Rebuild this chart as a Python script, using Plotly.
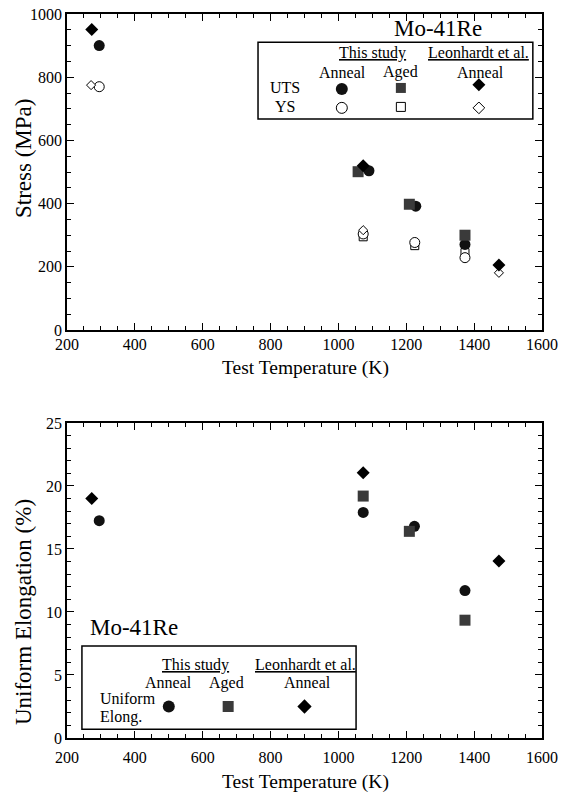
import plotly.graph_objects as go
from plotly.subplots import make_subplots

# ---- data ----
uts_anneal_T = [295, 1090, 1228, 1373]
uts_anneal_S = [900, 504, 392, 271]
uts_aged_T = [1058, 1209, 1373]
uts_aged_S = [501, 398, 300]
uts_leon_T = [273, 1073, 1473]
uts_leon_S = [951, 520, 206]

ys_anneal_T = [295, 1073, 1225, 1373]
ys_anneal_S = [770, 304, 277, 229]
ys_aged_T = [1073, 1225, 1373]
ys_aged_S = [295, 267, 245]
ys_leon_T = [271, 1073, 1473]
ys_leon_S = [775, 316, 181]

el_anneal_T = [295, 1073, 1224, 1373]
el_anneal_E = [17.25, 17.9, 16.8, 11.7]
el_aged_T = [1073, 1209, 1373]
el_aged_E = [19.2, 16.4, 9.35]
el_leon_T = [273, 1073, 1473]
el_leon_E = [19.0, 21.05, 14.05]

x_ticks = [200, 400, 600, 800, 1000, 1200, 1400, 1600]
stress_ticks = [0, 200, 400, 600, 800, 1000]
elong_ticks = [0, 5, 10, 15, 20, 25]

FONT = "Liberation Serif, Times New Roman, serif"
C_CIRC = "#111111"
C_SQ = "#3a3a3a"
C_DIA = "#000000"

fig = make_subplots(rows=2, cols=1)

def filled(x, y, sym, col, size, row):
    fig.add_trace(go.Scatter(x=x, y=y, mode="markers", showlegend=False,
                             marker=dict(symbol=sym, color=col, size=size,
                                         line=dict(width=0))), row=row, col=1)

def opened(x, y, sym, size, row):
    fig.add_trace(go.Scatter(x=x, y=y, mode="markers", showlegend=False,
                             marker=dict(symbol=sym, color="white", size=size,
                                         line=dict(width=1, color="black"))), row=row, col=1)

# top: YS (open) first, then UTS
opened(ys_aged_T, ys_aged_S, "square", 8, 1)
opened(ys_anneal_T, ys_anneal_S, "circle", 10, 1)
opened(ys_leon_T, ys_leon_S, "diamond", 7, 1)
filled(uts_anneal_T, uts_anneal_S, "circle", C_CIRC, 11, 1)
filled(uts_aged_T, uts_aged_S, "square", C_SQ, 11, 1)
filled(uts_leon_T, uts_leon_S, "diamond", C_DIA, 10, 1)

# bottom
filled(el_anneal_T, el_anneal_E, "circle", C_CIRC, 11, 2)
filled(el_aged_T, el_aged_E, "square", C_SQ, 11, 2)
filled(el_leon_T, el_leon_E, "diamond", C_DIA, 10, 2)

# legend key markers (layout positions in data units)
filled([1010], [763], "circle", C_CIRC, 12, 1)
filled([1184], [766], "square", C_SQ, 10, 1)
filled([1414], [776], "diamond", C_DIA, 10, 1)
opened([1010], [703], "circle", 11, 1)
opened([1184], [706], "square", 9, 1)
opened([1414], [703], "diamond", 9, 1)
filled([500], [2.5], "circle", C_CIRC, 12, 2)
filled([675], [2.5], "square", C_SQ, 11, 2)
filled([900], [2.5], "diamond", C_DIA, 11, 2)

axis_common = dict(showline=True, linecolor="black", linewidth=1.5, mirror="ticks",
                   ticks="inside", ticklen=7, tickwidth=1, tickcolor="black",
                   showgrid=False, zeroline=False, automargin=False,
                   tickfont=dict(family=FONT, size=16, color="black"))

fig.update_xaxes(range=[200, 1600], tickvals=x_ticks,
                 minor=dict(dtick=50, ticks="inside", ticklen=4, tickcolor="black", tickwidth=1),
                 **axis_common)
fig.update_xaxes(ticklabelstandoff=-1, row=1, col=1)
fig.update_xaxes(ticklabelstandoff=4, row=2, col=1)

fig.update_yaxes(range=[0, 1000], tickvals=stress_ticks,
                 minor=dict(dtick=50, ticks="inside", ticklen=4, tickcolor="black", tickwidth=1),
                 row=1, col=1, **axis_common)
fig.update_yaxes(range=[0, 25], tickvals=elong_ticks,
                 minor=dict(dtick=1, ticks="inside", ticklen=4, tickcolor="black", tickwidth=1),
                 row=2, col=1, **axis_common)

fig.update_layout(
    width=572, height=794,
    margin=dict(l=67, r=30, t=14, b=56, autoexpand=False),
    paper_bgcolor="white", plot_bgcolor="white",
    xaxis=dict(domain=[0, 1]), xaxis2=dict(domain=[0, 1]),
    yaxis=dict(domain=[0.5635, 1.0]), yaxis2=dict(domain=[0.0, 0.4351]),
)

# axis titles (as paper annotations)
def ptitle(x, y, s, size, angle=0):
    fig.add_annotation(x=x, y=y, xref="paper", yref="paper", text=s, showarrow=False,
                       xanchor="center", yanchor="middle", textangle=angle,
                       font=dict(family=FONT, size=size, color="black"))

ptitle(0.502, 0.511, "Test Temperature (K)", 19.5)
ptitle(0.502, -0.0608, "Test Temperature (K)", 19.5)
ptitle(-0.0926, 0.7997, "Stress (MPa)", 23, -90)
ptitle(-0.0926, 0.174, "Uniform Elongation (%)", 23, -90)

def txt(x, y, s, row, size=16, xanchor="center", under=False):
    ax = "" if row == 1 else "2"
    font = dict(family=FONT, size=size, color="black")
    if under:
        font["lineposition"] = "under"
    fig.add_annotation(x=x, y=y, xref="x" + ax, yref="y" + ax, text=s, showarrow=False,
                       xanchor=xanchor, yanchor="middle", font=font)

# top legend
fig.add_shape(type="rect", x0=763, x1=1573, y0=668, y1=911, xref="x", yref="y",
              line=dict(color="black", width=1.5), fillcolor="rgba(0,0,0,0)")
txt(1293, 953, "Mo-41Re", 1, size=23)
txt(1099, 877, "This study", 1, under=True)
txt(1414, 877, "Leonhardt et al.", 1, under=True)
txt(1013, 816, "Anneal", 1)
txt(1184, 816, "Aged", 1)
txt(1420, 816, "Anneal", 1)
txt(842, 766, "UTS", 1)
txt(842, 706, "YS", 1)

# bottom legend
fig.add_shape(type="rect", x0=244, x1=1052, y0=0.7, y1=7.3, xref="x2", yref="y2",
              line=dict(color="black", width=1.5), fillcolor="rgba(0,0,0,0)")
txt(262, 8.73, "Mo-41Re", 2, size=23, xanchor="left")
txt(580, 5.8, "This study", 2, under=True)
txt(904, 5.8, "Leonhardt et al.", 2, under=True)
txt(500, 4.37, "Anneal", 2)
txt(671, 4.37, "Aged", 2)
txt(910, 4.37, "Anneal", 2)
txt(290, 3.17, "Uniform", 2, xanchor="left")
txt(290, 1.67, "Elong.", 2, xanchor="left")

fig.write_html("out.html")
